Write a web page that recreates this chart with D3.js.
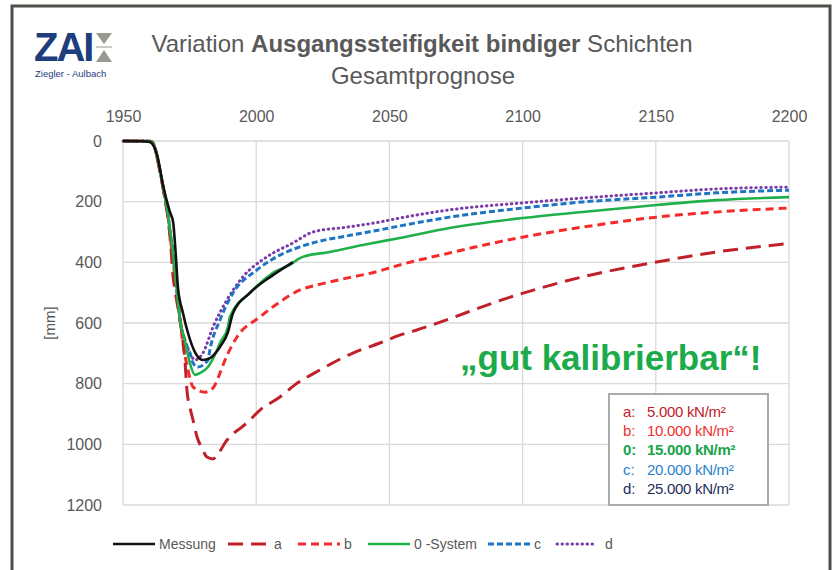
<!DOCTYPE html>
<html>
<head>
<meta charset="utf-8">
<script src="https://cdn.jsdelivr.net/npm/d3@7"></script>
<style>
  body { margin: 0; background: #fff; }
  text { font-family: "Liberation Sans", Arial, sans-serif; }
</style>
</head>
<body>
<svg id="chart" width="836" height="570"></svg>
<script>
// values: [year, settlement mm]
const start = [[1950, 0], [1957, 0], [1960, 1], [1961, 4], [1962, 23], [1963.1, 63], [1964.6, 129], [1965.8, 188], [1966.9, 244], [1967.6, 293], [1968.4, 343], [1969.1, 399], [1970.3, 501], [1971.4, 590], [1973.2, 656]];

const messung = [[1950, 0], [1957, 1], [1960, 3], [1962.8, 46], [1965, 145], [1967.6, 234], [1968.8, 267], [1969.9, 386], [1970.6, 481], [1972.5, 567], [1974.4, 633], [1977, 696], [1980, 722], [1982.6, 716], [1986.4, 679], [1989.4, 630], [1991.3, 567], [1997.6, 501], [2006.3, 442], [2013.8, 399]];

const seriesA = [[1950, 0], [1957, 0], [1960, 1], [1961, 4], [1962, 26], [1963.1, 68], [1964.6, 135], [1965.8, 195], [1966.9, 255], [1967.8, 330], [1968.8, 448], [1969.5, 491], [1972.1, 633], [1973.3, 729], [1974, 821], [1975.1, 877], [1976.3, 920], [1977.8, 976], [1979.6, 1012], [1981.5, 1042], [1983.8, 1048], [1986, 1028], [1988.3, 995], [1991, 968], [1994.6, 943], [1996.9, 926], [2001.4, 887], [2008.9, 844], [2014.5, 804], [2023.9, 755], [2036.3, 699], [2046.4, 666], [2053.9, 640], [2060.3, 623], [2097.8, 508], [2122.5, 448], [2150.3, 399], [2172.8, 366], [2200, 338]];

const seriesB = [[1950, 0], [1957, 0], [1960, 1], [1961, 4], [1962, 25], [1963.1, 66], [1964.6, 132], [1965.8, 192], [1966.9, 250], [1967.8, 320], [1969.1, 419], [1970.6, 524], [1972.5, 666], [1974.4, 755], [1976.3, 811], [1980.8, 828], [1983.8, 814], [1986.4, 765], [1988.3, 722], [1992.8, 646], [2001.4, 580], [2010, 524], [2016.4, 491], [2022.8, 475], [2034, 452], [2046.4, 428], [2050.1, 418], [2072.6, 369], [2100, 317], [2122.5, 284], [2150.3, 251], [2172.8, 234], [2200, 221]];

const series0 = start.concat([[1975.1, 732], [1977, 771], [1978.9, 765], [1981.9, 745], [1985.3, 689], [1986.4, 666], [1989.4, 613], [1990.1, 580], [1997.6, 501], [2006.3, 435], [2013.8, 402], [2015.3, 392], [2017.5, 382], [2027.6, 366], [2040, 343], [2050.1, 326], [2053.9, 320], [2072.6, 287], [2100, 254], [2122.5, 234], [2150.3, 211], [2172.8, 195], [2200, 185]]);

const seriesC = start.concat([[1975.1, 699], [1976.3, 732], [1978.1, 745], [1981.9, 722], [1982.6, 689], [1986.4, 590], [1991.3, 501], [2000.3, 425], [2008.9, 376], [2016.4, 349], [2023.9, 330], [2034, 313], [2046.4, 293], [2053.9, 280], [2072.6, 251], [2100, 221], [2122.5, 201], [2150.3, 185], [2172.8, 171], [2200, 162]]);

const seriesD = start.concat([[1975.1, 699], [1977, 722], [1980, 699], [1983.8, 613], [1989, 524], [1995, 448], [2004, 382], [2013.8, 336], [2021.3, 300], [2034, 284], [2046.4, 267], [2053.9, 254], [2072.6, 227], [2100, 204], [2122.5, 188], [2150.3, 171], [2172.8, 158], [2200, 152]]);

const xTicks = [1950, 2000, 2050, 2100, 2150, 2200];
const yTicks = [0, 200, 400, 600, 800, 1000, 1200];

const legendNames = ["Messung", "a", "b", "0 -System", "c", "d"];
const boxKeys = ["a:", "b:", "0:", "c:", "d:"];
const boxValues = ["5.000 kN/m²", "10.000 kN/m²", "15.000 kN/m²", "20.000 kN/m²", "25.000 kN/m²"];

const lines = [
  { data: messung, color: "#111111", dash: null, width: 2.6 },
  { data: seriesA, color: "#c0202a", dash: "15,8", width: 3 },
  { data: seriesB, color: "#f52a2a", dash: "8,5", width: 3 },
  { data: series0, color: "#1fb04a", dash: null, width: 2.6 },
  { data: seriesC, color: "#1c74c4", dash: "6,3", width: 3 },
  { data: seriesD, color: "#7a3aa8", dash: "0.5,4.5", width: 3, cap: "round" }
];
// draw order: d under everything, black on top
const drawOrder = [5, 4, 2, 1, 3, 0];

const boxColors = ["#c0202a", "#f03030", "#1aa448", "#2b7fcc", "#1f2d5a"];

const svg = d3.select("#chart");

// outer frame
svg.append("rect")
  .attr("x", 12).attr("y", 6)
  .attr("width", 818).attr("height", 580)
  .attr("fill", "#fff")
  .attr("stroke", "#4f4f4a")
  .attr("stroke-width", 3);

// logo
const logo = svg.append("g");
logo.append("text")
  .attr("x", 34).attr("y", 61)
  .style("font-size", "40px").style("font-weight", "bold")
  .style("letter-spacing", "-2px")
  .attr("fill", "#1d3d7c")
  .text("ZAI");
logo.append("path").attr("d", "M96,33 L112,33 L104,44 Z").attr("fill", "#9a998f");
logo.append("path").attr("d", "M96,62 L112,62 L104,50 Z").attr("fill", "#9a998f");
logo.append("line").attr("x1", 96).attr("x2", 112).attr("y1", 47).attr("y2", 47)
  .attr("stroke", "#9a998f").attr("stroke-width", 1);
logo.append("text")
  .attr("x", 35).attr("y", 77)
  .style("font-size", "9.5px")
  .attr("fill", "#1d3d7c")
  .text("Ziegler - Aulbach");

// title
const title = svg.append("text")
  .attr("x", 422).attr("y", 52)
  .attr("text-anchor", "middle")
  .style("font-size", "24px")
  .attr("fill", "#595959");
title.append("tspan").text("Variation ");
title.append("tspan").style("font-weight", "bold").text("Ausgangssteifigkeit bindiger");
title.append("tspan").text(" Schichten");
svg.append("text")
  .attr("x", 423).attr("y", 84)
  .attr("text-anchor", "middle")
  .style("font-size", "24px")
  .attr("fill", "#595959")
  .text("Gesamtprognose");

// scales
const x = d3.scaleLinear().domain([1950, 2200]).range([123, 789]);
const y = d3.scaleLinear().domain([0, 1200]).range([141, 505]);

// grid
svg.append("g").selectAll("line")
  .data(xTicks).enter().append("line")
  .attr("x1", d => x(d)).attr("x2", d => x(d))
  .attr("y1", y(0)).attr("y2", y(1200))
  .attr("stroke", "#d9d9d9").attr("stroke-width", 1.3);
svg.append("g").selectAll("line")
  .data(yTicks).enter().append("line")
  .attr("x1", x(1950)).attr("x2", x(2200))
  .attr("y1", d => y(d)).attr("y2", d => y(d))
  .attr("stroke", "#d9d9d9").attr("stroke-width", 1.3);

// axes (top x, left y)
const xAxis = svg.append("g")
  .attr("transform", `translate(0,${y(0) - 16})`)
  .call(d3.axisTop(x).tickValues(xTicks).tickFormat(d3.format("d")).tickSize(0));
const yAxis = svg.append("g")
  .attr("transform", `translate(${x(1950) - 18},0)`)
  .call(d3.axisLeft(y).tickValues(yTicks).tickFormat(d3.format("d")).tickSize(0));
[xAxis, yAxis].forEach(a => {
  a.select(".domain").remove();
  a.selectAll("text")
    .style("font-size", "16px")
    .style("font-family", "'Liberation Sans', Arial, sans-serif")
    .attr("fill", "#595959");
});

svg.append("text")
  .attr("transform", `translate(55,${y(600)}) rotate(-90)`)
  .attr("text-anchor", "middle")
  .style("font-size", "15px")
  .attr("fill", "#595959")
  .text("[mm]");

// curves
const line = d3.line()
  .x(d => x(d[0]))
  .y(d => y(d[1]))
  .curve(d3.curveMonotoneX);

drawOrder.forEach(i => {
  const s = lines[i];
  svg.append("path")
    .datum(s.data)
    .attr("d", line)
    .attr("fill", "none")
    .attr("stroke", s.color)
    .attr("stroke-width", s.width)
    .attr("stroke-dasharray", s.dash)
    .attr("stroke-linecap", s.cap || "butt")
    .attr("stroke-linejoin", "round");
});

// callout
svg.append("text")
  .attr("x", 460).attr("y", 370)
  .style("font-size", "35px").style("font-weight", "bold")
  .attr("fill", "#1bab4b")
  .text("„gut kalibrierbar“!");

// parameter box
svg.append("rect")
  .attr("x", 609).attr("y", 394)
  .attr("width", 159).attr("height", 111)
  .attr("fill", "#fff")
  .attr("stroke", "#ababab").attr("stroke-width", 2);
const boxRows = svg.append("g").selectAll("g")
  .data(boxKeys).enter().append("g")
  .attr("transform", (d, i) => `translate(0,${417 + i * 19.2})`);
boxRows.append("text")
  .attr("x", 623)
  .style("font-size", "15px")
  .style("font-weight", (d, i) => i === 2 ? "bold" : "normal")
  .attr("fill", (d, i) => boxColors[i])
  .text(d => d);
boxRows.append("text")
  .attr("x", 647)
  .style("font-size", "15px")
  .style("font-weight", (d, i) => i === 2 ? "bold" : "normal")
  .style("letter-spacing", "-0.3px")
  .attr("fill", (d, i) => boxColors[i])
  .text((d, i) => boxValues[i]);

// bottom legend
const legendX = [113, 228, 298, 368, 488, 557];
const legendG = svg.append("g").selectAll("g")
  .data(legendNames).enter().append("g")
  .attr("transform", (d, i) => `translate(${legendX[i]},544)`);
legendG.append("line")
  .attr("x1", 0).attr("x2", (d, i) => i === 5 ? 40 : 42)
  .attr("y1", 0).attr("y2", 0)
  .attr("stroke", (d, i) => lines[i].color)
  .attr("stroke-width", (d, i) => lines[i].width)
  .attr("stroke-dasharray", (d, i) => lines[i].dash)
  .attr("stroke-linecap", (d, i) => lines[i].cap || "butt");
legendG.append("text")
  .attr("x", (d, i) => i === 5 ? 48 : 46)
  .attr("y", 5)
  .style("font-size", "14px")
  .attr("fill", "#595959")
  .text(d => d);
</script>
</body>
</html>
